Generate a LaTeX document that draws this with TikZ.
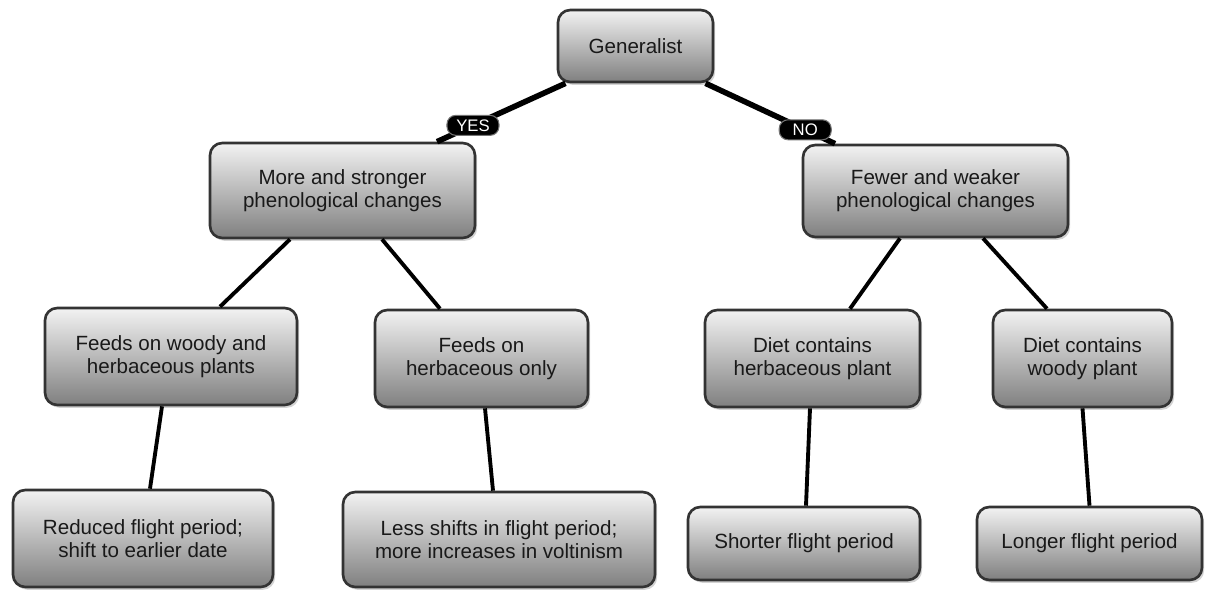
\documentclass[tikz,border=0pt]{standalone}
\usepackage{fontspec}
\setmainfont{Liberation Sans}
\usepackage{tikz}
\usetikzlibrary{shapes,positioning,calc,shadows}

\begin{document}
\begin{tikzpicture}[
    box/.style={rectangle, rounded corners=7pt, draw=black!80, line width=1.5pt,
        top color=black!5, bottom color=black!50, align=center, text=black!90,
        drop shadow={opacity=0.35, shadow xshift=1.2pt, shadow yshift=-1.6pt},
        font=\fontsize{11.7}{13}\selectfont},
    tag/.style={rectangle, rounded corners=5pt, fill=black, draw=black!55, line width=0.6pt,
        text=white, inner sep=1.5pt, minimum width=1.04cm, minimum height=0.4cm,
        font=\fontsize{9.5}{10}\selectfont},
    link/.style={line width=2.2pt},
    toplink/.style={line width=3.2pt}]
    \useasboundingbox (0,0) rectangle (24.36,11.82);

    % Root
    \node (gen) at (12.71,10.90) [box, minimum width=3.1cm, minimum height=1.44cm] {Generalist};

    % Second level
    \node (more) at (6.85,8.01) [box, minimum width=5.3cm, minimum height=1.9cm]
        {More and stronger\\phenological changes};
    \node (fewer) at (18.71,8.00) [box, minimum width=5.3cm, minimum height=1.84cm]
        {Fewer and weaker\\phenological changes};

    % Third level
    \node (fwoody) at (3.42,4.69) [box, minimum width=5.04cm, minimum height=1.94cm]
        {Feeds on woody and\\herbaceous plants};
    \node (fherb) at (9.63,4.65) [box, minimum width=4.26cm, minimum height=1.94cm]
        {Feeds on\\herbaceous only};
    \node (dherb) at (16.25,4.65) [box, minimum width=4.3cm, minimum height=1.94cm]
        {Diet contains\\herbaceous plant};
    \node (dwoody) at (21.65,4.65) [box, minimum width=3.58cm, minimum height=1.94cm]
        {Diet contains\\woody plant};

    % Outcomes
    \node (reduced) at (2.86,1.05) [box, minimum width=5.2cm, minimum height=1.94cm]
        {Reduced flight period;\\shift to earlier date};
    \node (less) at (9.98,1.03) [box, minimum width=6.24cm, minimum height=1.9cm]
        {Less shifts in flight period;\\more increases in voltinism};
    \node (shorter) at (16.08,0.95) [box, minimum width=4.64cm, minimum height=1.46cm]
        {Shorter flight period};
    \node (longer) at (21.79,0.95) [box, minimum width=4.5cm, minimum height=1.46cm]
        {Longer flight period};

    % Links
    \draw[toplink] ([xshift=-1.4cm]gen.south) -- node[pos=0.72, tag] {YES} ([xshift=1.89cm]more.north);
    \draw[toplink] ([xshift=1.4cm]gen.south) -- node[pos=0.77, tag] {NO} ([xshift=-2.01cm]fewer.north);
    \draw[link] ([xshift=-1.05cm]more.south) -- ([xshift=0.98cm]fwoody.north);
    \draw[link] ([xshift=0.79cm]more.south) -- ([xshift=-0.83cm]fherb.north);
    \draw[link] ([xshift=-0.71cm]fewer.south) -- ([xshift=0.75cm]dherb.north);
    \draw[link] ([xshift=0.95cm]fewer.south) -- ([xshift=-0.71cm]dwoody.north);
    \draw[link] ([xshift=-0.18cm]fwoody.south) -- ([xshift=0.14cm]reduced.north);
    \draw[link] ([xshift=0.07cm]fherb.south) -- ([xshift=-0.12cm]less.north);
    \draw[link] ([xshift=-0.05cm]dherb.south) -- ([xshift=0.04cm]shorter.north);
    \draw[link] (dwoody.south) -- (longer.north);
\end{tikzpicture}
\end{document}
